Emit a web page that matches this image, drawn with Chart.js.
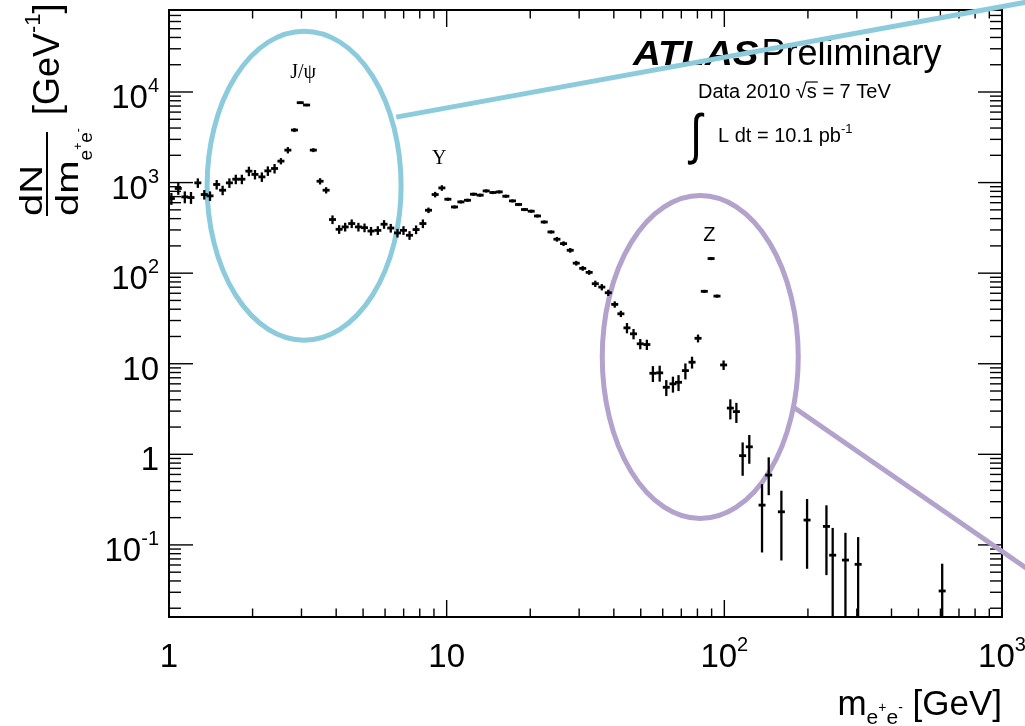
<!DOCTYPE html>
<html>
<head>
<meta charset="utf-8">
<title>ATLAS Preliminary - dielectron mass spectrum</title>
<script src="https://cdn.jsdelivr.net/npm/chart.js@4.4.1/dist/chart.umd.min.js"></script>
<style>
  html, body { margin: 0; padding: 0; background: #fff; }
  canvas { display: block; }
</style>
</head>
<body>
<canvas id="massChart" width="1025" height="726"></canvas>
<script>
// Datos: centro del bin (GeV) y dN/dm (GeV^-1)
const massGeV = [
  1.02, 1.08, 1.14, 1.20, 1.27, 1.34, 1.405, 1.485, 1.56, 1.65,
  1.74, 1.83, 1.94, 2.04, 2.16, 2.27, 2.40, 2.53, 2.68, 2.83,
  2.97, 3.13, 3.31, 3.50, 3.68, 3.88, 4.10, 4.31, 4.55, 4.81,
  5.06, 5.34, 5.65, 5.95, 6.29, 6.65, 6.99, 7.35, 7.76, 8.21,
  8.60, 9.09, 9.61, 10.1, 10.67, 11.25, 11.89, 12.49, 13.2, 13.88,
  14.67, 15.46, 16.34, 17.26, 18.15, 19.07, 20.16, 21.24, 22.46, 23.75,
  24.95, 26.36, 27.86, 29.29, 30.9, 32.6, 34.3, 36.2, 38.2, 40.3,
  42.4, 44.6, 47.1, 49.8, 52.6, 55.3, 58.5, 61.8, 65.3, 68.4,
  72.4, 76.5, 80.4, 84.7, 89.6, 94.1, 99.4, 105.1, 110.5, 116.4,
  123.0, 136.7, 144.5, 160.5, 198.6, 233.2, 245.6, 273, 303.3, 609
];
const dNdm = [
  667, 861, 695, 684, 993, 738, 713, 953, 824, 993,
  1090, 1090, 1337, 1230, 1156, 1347, 1431, 1725, 2282, 3800,
  7620, 7180, 2282, 1035, 824, 391, 305, 324, 353, 324,
  318, 292, 297, 347, 315, 278, 297, 262, 303, 353,
  495, 738, 873, 655, 538, 612, 638, 744, 726, 809,
  777, 789, 707, 628, 573, 504, 483, 428, 367, 285,
  237, 212, 179, 129, 113, 102, 76.5, 70.2, 60.8, 45.2,
  35.6, 24.9, 21.4, 16.6, 16.3, 7.85, 7.93, 5.5, 6.0, 6.24,
  8.4, 10.4, 19.1, 63, 145, 55.8, 9.7, 3.24, 2.96, 0.966,
  1.21, 0.275, 0.59, 0.232, 0.188, 0.16, 0.077, 0.068, 0.061, 0.031
];
// Errores estadísticos relativos (arriba / abajo)
const errUp = [
  .15, .15, .15, .15, .12, .12, .12, .12, .12, .12,
  .12, .12, .12, .12, .12, .12, .12, .08, .08, .05,
  .03, .03, .05, .08, .08, .11, .11, .11, .11, .11,
  .11, .11, .11, .11, .11, .11, .11, .11, .11, .11,
  .07, .07, .07, .04, .04, .04, .04, .04, .04, .04,
  .04, .04, .04, .04, .04, .04, .04, .04, .04, .04,
  .06, .06, .06, .06, .06, .06, .08, .08, .08, .08,
  .08, .13, .13, .13, .13, .2, .2, .2, .2, .2,
  .2, .15, .1, .04, .04, .04, .12, .25, .25, .4,
  .35, .7, .57, .71, .71, .71, 1, 1, 1, 1
];
const errDown = [
  .15, .15, .15, .15, .12, .12, .12, .12, .12, .12,
  .12, .12, .12, .12, .12, .12, .12, .08, .08, .05,
  .03, .03, .05, .08, .08, .11, .11, .11, .11, .11,
  .11, .11, .11, .11, .11, .11, .11, .11, .11, .11,
  .07, .07, .07, .04, .04, .04, .04, .04, .04, .04,
  .04, .04, .04, .04, .04, .04, .04, .04, .04, .04,
  .06, .06, .06, .06, .06, .06, .08, .08, .08, .08,
  .08, .13, .13, .13, .13, .2, .2, .2, .2, .2,
  .2, .15, .1, .04, .04, .04, .12, .25, .25, .4,
  .35, .7, .4, .71, .71, .71, 1, 1, 1, 1
];

// Etiquetas de los ejes
const xTickValues = [1, 10, 100, 1000];
const xTickBase = ['1', '10', '10', '10'];
const xTickExp = ['', '', '2', '3'];
const yTickValues = [0.1, 1, 10, 100, 1000, 10000];
const yTickBase = ['10', '1', '10', '10', '10', '10'];
const yTickExp = ['-1', '', '', '2', '3', '4'];

// Etiquetas de las resonancias
const peakNames = ['J/ψ', 'Υ', 'Z'];
const peakX = [3.04, 9.4, 88.3];
const peakY = [14300, 1598, 225];
const peakSerif = [true, true, false];

// Elipses de resalte (centro en coordenadas de datos, radios en px)
const ringColors = ['#8ccbdc', '#b2a2cc'];
const ringX = [3.066, 81.9];
const ringY = [925, 11.86];
const ringRx = [97, 98];
const ringRy = [154.5, 161.5];
const ringLineFrom = [[6.58, 5280], [178.7, 3.27]];
const ringLineTo = [[1377, 105000], [1267, 0.0515]];

const SANS = "'Liberation Sans', Arial, Helvetica, sans-serif";
const SERIF = "'Liberation Serif', 'Times New Roman', serif";

function logTicks(min, max) {
    const out = [];
    for (let d = Math.floor(Math.log10(min)); d <= Math.ceil(Math.log10(max)); d++) {
        for (let k = 1; k <= 9; k++) {
            const v = k * Math.pow(10, d);
            if (v >= min * 0.999 && v <= max * 1.001) out.push({ v: v, major: k === 1 });
        }
    }
    return out;
}

function seg(ctx, x1, y1, x2, y2) {
    ctx.beginPath();
    ctx.moveTo(x1, y1);
    ctx.lineTo(x2, y2);
    ctx.stroke();
}

// texto base + exponente, devuelve el ancho total
function supWidth(ctx, base, exp, size, expSize) {
    ctx.font = size + 'px ' + SANS;
    let w = ctx.measureText(base).width;
    if (exp) {
        ctx.font = expSize + 'px ' + SANS;
        w += ctx.measureText(exp).width;
    }
    return w;
}

function drawSup(ctx, base, exp, left, baseline, size, expSize, rise) {
    ctx.textAlign = 'left';
    ctx.textBaseline = 'alphabetic';
    ctx.font = size + 'px ' + SANS;
    ctx.fillText(base, left, baseline);
    const w = ctx.measureText(base).width;
    if (exp) {
        ctx.font = expSize + 'px ' + SANS;
        ctx.fillText(exp, left + w, baseline - rise);
    }
}

const atlasDecor = {
    id: 'atlasDecor',
    beforeDatasetsDraw(chart) {
        const { ctx, chartArea: a } = chart;
        const xs = chart.scales.x;
        const ys = chart.scales.y;
        ctx.save();
        ctx.fillStyle = '#000';
        ctx.strokeStyle = '#000';

        // marco
        ctx.lineWidth = 2;
        ctx.strokeRect(a.left, a.top, a.right - a.left, a.bottom - a.top);

        // marcas en los cuatro lados
        ctx.lineWidth = 1.4;
        logTicks(xs.min, xs.max).forEach(t => {
            const px = xs.getPixelForValue(t.v);
            const len = t.major ? 17 : 8.5;
            seg(ctx, px, a.bottom, px, a.bottom - len);
            seg(ctx, px, a.top, px, a.top + len);
        });
        logTicks(ys.min, ys.max).forEach(t => {
            const py = ys.getPixelForValue(t.v);
            const len = t.major ? 24 : 12;
            seg(ctx, a.left, py, a.left + len, py);
            seg(ctx, a.right, py, a.right - len, py);
        });

        // etiquetas del eje x
        xTickValues.forEach((v, i) => {
            const px = xs.getPixelForValue(v);
            const w = supWidth(ctx, xTickBase[i], xTickExp[i], 33, 20);
            drawSup(ctx, xTickBase[i], xTickExp[i], px - w / 2, a.bottom + 50, 33, 20, 16);
        });
        // etiquetas del eje y
        yTickValues.forEach((v, i) => {
            const py = ys.getPixelForValue(v);
            const w = supWidth(ctx, yTickBase[i], yTickExp[i], 33, 20);
            drawSup(ctx, yTickBase[i], yTickExp[i], a.left - 10 - w, py + 16, 33, 20, 16);
        });

        // título del eje x: m_{e+e-} [GeV]
        ctx.font = '35px ' + SANS;
        const wm = ctx.measureText('m').width;
        const wGeV = ctx.measureText(' [GeV]').width;
        ctx.font = '21px ' + SANS;
        const we = ctx.measureText('e').width;
        ctx.font = '14px ' + SANS;
        const wp = ctx.measureText('+').width;
        const wn = ctx.measureText('-').width;
        let cx = a.right - (wm + 2 * we + wp + wn + wGeV);
        const bl = 715;
        ctx.textAlign = 'left';
        ctx.font = '35px ' + SANS; ctx.fillText('m', cx, bl); cx += wm;
        ctx.font = '21px ' + SANS; ctx.fillText('e', cx, bl + 9); cx += we;
        ctx.font = '14px ' + SANS; ctx.fillText('+', cx, bl - 3); cx += wp;
        ctx.font = '21px ' + SANS; ctx.fillText('e', cx, bl + 9); cx += we;
        ctx.font = '14px ' + SANS; ctx.fillText('-', cx, bl - 3); cx += wn;
        ctx.font = '35px ' + SANS; ctx.fillText(' [GeV]', cx, bl);

        // título del eje y (girado): dN/dm_{e+e-} [GeV^-1]
        ctx.save();
        ctx.rotate(-Math.PI / 2);
        const yStart = 216;
        ctx.save();
        ctx.scale(1.25, 1);
        ctx.font = '32px ' + SANS;
        ctx.fillText('dN', -yStart / 1.25, 42);
        ctx.fillText('dm', -yStart / 1.25, 78);
        const wdm = ctx.measureText('dm').width * 1.25;
        ctx.restore();
        let u = -yStart + wdm;
        ctx.font = '19px ' + SANS; ctx.fillText('e', u, 92); u += ctx.measureText('e').width;
        ctx.font = '12px ' + SANS; ctx.fillText('+', u, 82); u += ctx.measureText('+').width;
        ctx.font = '19px ' + SANS; ctx.fillText('e', u, 92); u += ctx.measureText('e').width;
        ctx.font = '12px ' + SANS; ctx.fillText('-', u, 82);
        ctx.lineWidth = 2;
        seg(ctx, -yStart, 47, -132, 47);
        u = -115;
        ctx.font = '36px ' + SANS; ctx.fillText('[GeV', u, 59); u += ctx.measureText('[GeV').width;
        ctx.font = '22px ' + SANS; ctx.fillText('-1', u, 40); u += ctx.measureText('-1').width;
        ctx.font = '36px ' + SANS; ctx.fillText(']', u, 59);
        ctx.restore();

        // ATLAS Preliminary
        ctx.save();
        ctx.scale(1.1, 1);
        ctx.font = 'italic bold 35px ' + SANS;
        ctx.fillText('ATLAS', 633 / 1.1, 65);
        const wAtlas = ctx.measureText('ATLAS').width * 1.1;
        ctx.restore();
        ctx.font = '36px ' + SANS;
        ctx.fillText('Preliminary', 633 + wAtlas + 3, 65);

        // Data 2010 √s = 7 TeV
        ctx.font = '20px ' + SANS;
        const pre = 'Data 2010 √';
        ctx.fillText(pre + 's = 7 TeV', 698, 98);
        const wPre = ctx.measureText(pre).width;
        const wS = ctx.measureText('s').width;
        ctx.lineWidth = 1.2;
        seg(ctx, 698 + wPre - 1, 82, 698 + wPre + wS + 1, 82);

        // ∫ L dt = 10.1 pb^-1
        ctx.save();
        ctx.scale(1, 1.25);
        ctx.font = '44px ' + SANS;
        ctx.fillText('∫', 690, 153 / 1.25);
        ctx.restore();
        drawSup(ctx, 'L dt = 10.1 pb', '-1', 718, 142, 20, 13, 9);

        // nombres de las resonancias
        ctx.textAlign = 'center';
        peakNames.forEach((name, i) => {
            ctx.font = '20px ' + (peakSerif[i] ? SERIF : SANS);
            ctx.fillText(name, xs.getPixelForValue(peakX[i]), ys.getPixelForValue(peakY[i]));
        });

        // elipses y líneas de resalte
        ctx.lineWidth = 5;
        ringX.forEach((v, i) => {
            ctx.strokeStyle = ringColors[i];
            const cxp = xs.getPixelForValue(v);
            const cyp = ys.getPixelForValue(ringY[i]);
            ctx.beginPath();
            ctx.ellipse(cxp, cyp, ringRx[i], ringRy[i], 0, 0, 2 * Math.PI);
            ctx.stroke();
            seg(ctx,
                xs.getPixelForValue(ringLineFrom[i][0]), ys.getPixelForValue(ringLineFrom[i][1]),
                xs.getPixelForValue(ringLineTo[i][0]), ys.getPixelForValue(ringLineTo[i][1]));
        });
        ctx.restore();
    },
    afterDatasetsDraw(chart) {
        // barras de error verticales
        const { ctx, chartArea: a } = chart;
        const xs = chart.scales.x;
        const ys = chart.scales.y;
        ctx.save();
        ctx.beginPath();
        ctx.rect(a.left, a.top, a.right - a.left, a.bottom - a.top);
        ctx.clip();
        ctx.strokeStyle = '#000';
        ctx.lineWidth = 2.3;
        massGeV.forEach((m, i) => {
            const v = dNdm[i];
            const px = xs.getPixelForValue(m);
            const top = ys.getPixelForValue(v * (1 + errUp[i]));
            const lowVal = v * (1 - errDown[i]);
            const bottom = lowVal > 0 ? ys.getPixelForValue(lowVal) : a.bottom + 2;
            seg(ctx, px, top, px, bottom);
        });
        ctx.restore();
    }
};

const chart = new Chart(document.getElementById('massChart'), {
    type: 'scatter',
    data: {
        datasets: [{
            label: 'Data 2010',
            data: massGeV.map((m, i) => ({ x: m, y: dNdm[i] })),
            pointStyle: 'line',
            pointRadius: 3.5,
            pointHoverRadius: 3.5,
            borderColor: '#000',
            backgroundColor: '#000',
            borderWidth: 2.8
        }]
    },
    options: {
        responsive: false,
        animation: false,
        devicePixelRatio: 1,
        layout: { padding: { top: 10, right: 23, left: 0, bottom: 0 } },
        plugins: { legend: { display: false }, tooltip: { enabled: false } },
        scales: {
            x: {
                type: 'logarithmic',
                min: 1,
                max: 1000,
                afterFit: s => { s.height = 109; },
                ticks: { display: false },
                grid: { display: false },
                border: { display: false }
            },
            y: {
                type: 'logarithmic',
                min: 0.016,
                max: 80400,
                afterFit: s => { s.width = 169; },
                ticks: { display: false },
                grid: { display: false },
                border: { display: false }
            }
        }
    },
    plugins: [atlasDecor]
});
</script>
</body>
</html>
